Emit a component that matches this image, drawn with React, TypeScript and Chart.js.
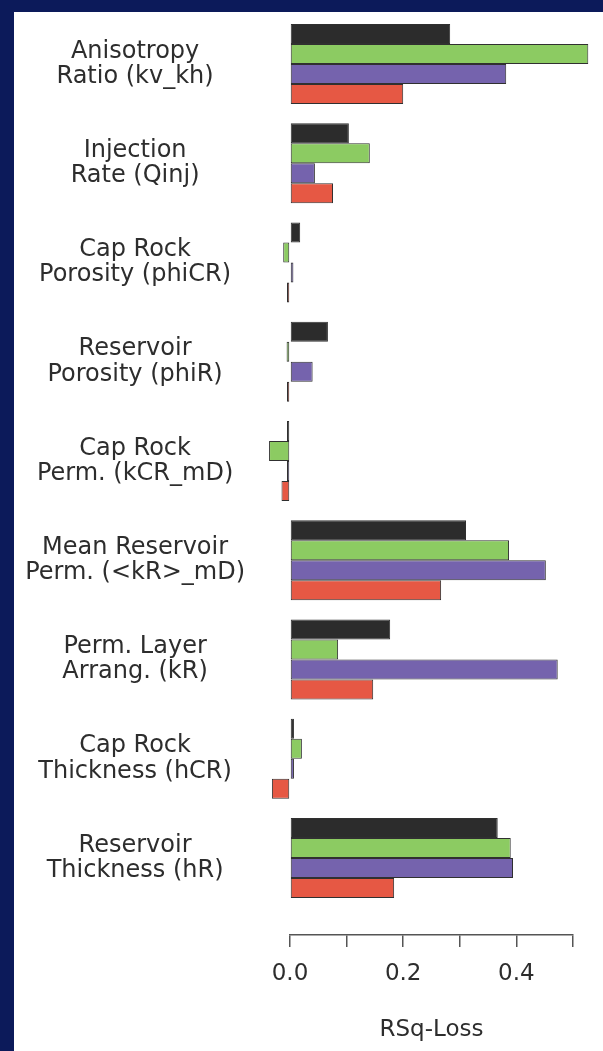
import React, { useEffect, useRef } from "react";
import { Chart, registerables } from "chart.js";

Chart.register(...registerables);

const categories: string[][] = [
  ["Anisotropy", "Ratio (kv_kh)"],
  ["Injection", "Rate (Qinj)"],
  ["Cap Rock", "Porosity (phiCR)"],
  ["Reservoir", "Porosity (phiR)"],
  ["Cap Rock", "Perm. (kCR_mD)"],
  ["Mean Reservoir", "Perm. (<kR>_mD)"],
  ["Perm. Layer", "Arrang. (kR)"],
  ["Cap Rock", "Thickness (hCR)"],
  ["Reservoir", "Thickness (hR)"],
];

const seriesBlack = [0.283, 0.104, 0.018, 0.067, -0.003, 0.311, 0.177, 0.007, 0.367];
const seriesGreen = [0.527, 0.141, -0.012, -0.006, -0.037, 0.387, 0.085, 0.021, 0.39];
const seriesPurple = [0.382, 0.044, 0.006, 0.04, -0.002, 0.452, 0.473, 0.007, 0.394];
const seriesRed = [0.2, 0.076, -0.003, -0.003, -0.015, 0.267, 0.147, -0.032, 0.184];

const xTickValues = [0, 0.1, 0.2, 0.3, 0.4, 0.5];
const xTickLabels = ["0.0", "", "0.2", "", "0.4", ""];

const FONT = "'DejaVu Sans', 'Liberation Sans', Arial, sans-serif";

export default function App() {
  const ref = useRef<HTMLCanvasElement | null>(null);

  useEffect(() => {
    if (!ref.current) return;
    const mk = (vals: number[], color: string) => ({
      data: vals.map((v, i) => ({ x: v, y: i })),
      backgroundColor: color,
      borderColor: "#303030",
      borderWidth: 1,
      borderSkipped: false as const,
      clip: false as const,
      minBarLength: 3,
      categoryPercentage: 0.806,
      barPercentage: 1,
    });
    const chart = new Chart(ref.current, {
      type: "bar",
      data: {
        datasets: [
          mk(seriesBlack, "#2c2c2c"),
          mk(seriesGreen, "#8ccb62"),
          mk(seriesPurple, "#7563ad"),
          mk(seriesRed, "#e65844"),
        ] as any,
      },
      options: {
        animation: false,
        responsive: false,
        indexAxis: "y",
        layout: { padding: { top: 0, right: 30, bottom: 0, left: 0 } },
        plugins: { legend: { display: false }, tooltip: { enabled: false } },
        scales: {
          y: {
            type: "linear",
            reverse: true,
            offset: false,
            min: -0.524,
            max: 8.776,
            grid: { display: false, drawTicks: false, offset: false },
            border: { display: false },
            afterBuildTicks: (s: any) => {
              s.ticks = categories.map((_, i) => ({ value: i }));
            },
            afterFit: (s: any) => {
              s.width = 276;
              s.paddingTop = 0;
              s.paddingBottom = 0;
            },
            ticks: {
              autoSkip: false,
              crossAlign: "center",
              padding: 45,
              color: "#2d2d2d",
              font: { family: FONT, size: 24, lineHeight: 1.05 },
              callback: (v: any) => categories[Math.round(Number(v))] as any,
            },
          },
          x: {
            type: "linear",
            min: 0,
            max: 0.5,
            afterBuildTicks: (s: any) => {
              s.ticks = xTickValues.map((v) => ({ value: v }));
            },
            afterFit: (s: any) => {
              s.height = 116;
            },
            grid: {
              display: true,
              drawOnChartArea: false,
              drawTicks: true,
              tickLength: 12,
              color: "#555",
              lineWidth: 1.5,
            },
            border: { display: true, color: "#555", width: 1.5 },
            ticks: {
              autoSkip: false,
              maxRotation: 0,
              padding: 14,
              color: "#2d2d2d",
              font: { family: FONT, size: 23, lineHeight: 1.1 },
              callback: (_v: any, i: number) => xTickLabels[i],
            },
            title: {
              display: true,
              text: "RSq-Loss",
              color: "#2d2d2d",
              font: { family: FONT, size: 23, lineHeight: 1.1 },
              padding: { top: 0, bottom: 8 },
            },
          },
        },
      } as any,
    });
    return () => chart.destroy();
  }, []);

  return (
    <div
      style={{
        position: "fixed",
        left: 0,
        top: 0,
        width: 603,
        height: 1051,
        background: "#0c1a5a",
        overflow: "hidden",
      }}
    >
      <div
        style={{
          position: "absolute",
          left: 14,
          top: 12,
          width: 589,
          height: 1039,
          background: "#ffffff",
        }}
      >
        <canvas ref={ref} width={589} height={1039} style={{ display: "block" }} />
      </div>
    </div>
  );
}
